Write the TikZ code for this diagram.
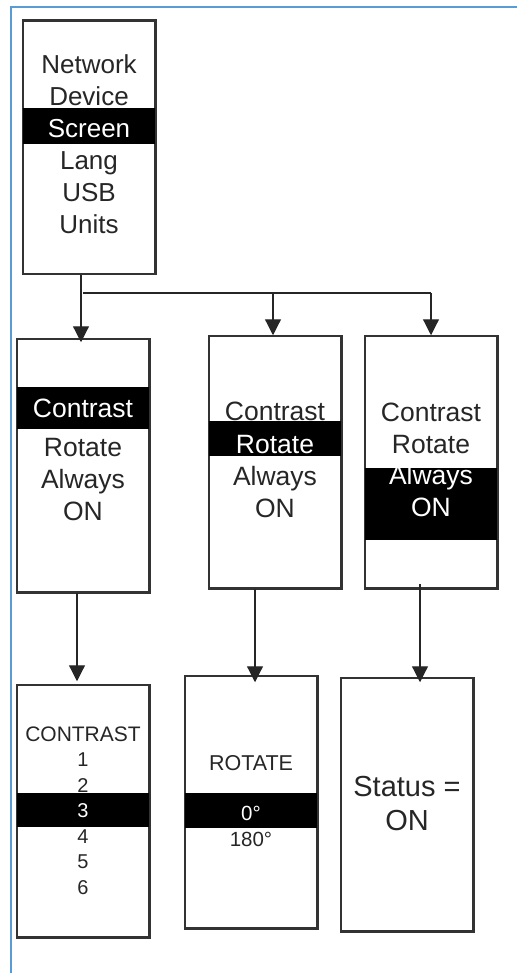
\documentclass[tikz,border=0pt]{standalone}
\usepackage{fontspec}
\setmainfont{Liberation Sans}
\usetikzlibrary{arrows.meta}
\definecolor{frameblue}{HTML}{5B9BD5}
\begin{document}
\begin{tikzpicture}[x=1pt,y=-1pt,
  box/.style={draw=black!80, line width=1.5pt, rectangle, inner sep=0pt},
  band/.style={fill=black},
  conn/.style={draw=black!85, line width=1.2pt, -{Triangle[width=16pt,length=16pt]}},
  plain/.style={draw=black!85, line width=1.2pt},
  lbl/.style={anchor=base, inner sep=0pt, text=black!85, font=\fontsize{#1pt}{#1pt}\selectfont},
  inv/.style={text=white}
]
\useasboundingbox (0,0) rectangle (517,973);
% frame
\draw[frameblue, line width=2pt] (11,973) -- (11,7) -- (517,7);

% boxes (geometry)
\node[box, minimum width=132pt, minimum height=253pt] (top) at (89,147.5) {};
\node[box, minimum width=132pt, minimum height=253pt] (A) at (83,465.5) {};
\node[box, minimum width=132pt, minimum height=252pt] (B) at (275,462) {};
\node[box, minimum width=132pt, minimum height=252pt] (C) at (431,462) {};
\node[box, minimum width=132pt, minimum height=252pt] (D) at (83,811) {};
\node[box, minimum width=132pt, minimum height=252pt] (E) at (251,802) {};
\node[box, minimum width=132pt, minimum height=253pt] (F) at (407,804.5) {};

% highlight bands
\fill[band] (top.west |- 0,108) rectangle (top.east |- 0,144);
\fill[band] (A.west |- 0,387) rectangle (A.east |- 0,429);
\fill[band] (B.west |- 0,421) rectangle (B.east |- 0,456);
\fill[band] (C.west |- 0,468) rectangle (C.east |- 0,540);
\fill[band] (D.west |- 0,793) rectangle (D.east |- 0,827);
\fill[band] (E.west |- 0,793) rectangle (E.east |- 0,828);

% redraw borders over bands
\foreach \b in {top,A,B,C,D,E,F}{
  \draw[draw=black!80, line width=1.5pt] (\b.north west) rectangle (\b.south east);
}

% top box text
\node[lbl=26] (t1) at (89,74) {Network};
\node[lbl=26] (t2) at (89,106) {Device};
\node[lbl=26,inv] (t3) at (89,138) {Screen};
\node[lbl=26] (t4) at (89,170) {Lang};
\node[lbl=26] (t5) at (89,202) {USB};
\node[lbl=26] (t6) at (89,234) {Units};

% box A
\node[lbl=26.5,inv] (a1) at (83,417) {Contrast};
\node[lbl=26.5] (a2) at (83,456) {Rotate};
\node[lbl=26.5] (a3) at (83,488) {Always};
\node[lbl=26.5] (a4) at (83,520) {ON};

% box B
\node[lbl=26.5] (b1) at (275,420) {Contrast};
\node[lbl=26.5,inv] (b2) at (275,453) {Rotate};
\node[lbl=26.5] (b3) at (275,485) {Always};
\node[lbl=26.5] (b4) at (275,517) {ON};

% box C
\node[lbl=26.5] (c1) at (431,421) {Contrast};
\node[lbl=26.5] (c2) at (431,453) {Rotate};
\node[lbl=26.5,inv] (c3) at (431,484) {Always};
\node[lbl=26.5,inv] (c4) at (431,516) {ON};

% box D
\node[lbl=21] (d0) at (83,741) {CONTRAST};
\node[lbl=20] (d1) at (83,766.5) {1};
\node[lbl=20] (d2) at (83,792) {2};
\node[lbl=20,inv] (d3) at (83,817.5) {3};
\node[lbl=20] (d4) at (83,843) {4};
\node[lbl=20] (d5) at (83,868.5) {5};
\node[lbl=20] (d6) at (83,894) {6};

% box E
\node[lbl=21.5] (e0) at (251,770.5) {ROTATE};
\node[lbl=20.5,inv] (e1) at (251,820.5) {0°};
\node[lbl=20.5] (e2) at (251,846.5) {180°};

% box F
\node[lbl=29] (f1) at (407,796.5) {Status =};
\node[lbl=29] (f2) at (407,830) {ON};

% connectors
\coordinate (j1) at (83,293);
\coordinate (j2) at (273,293);
\coordinate (j3) at (431,293);
\draw[conn] (top.south -| 81,0) -- ([yshift=-4pt]A.north -| 81,0);
\draw[plain] (j1) -- (j3);
\draw[conn] (j2) -- (B.north -| j2);
\draw[conn] (j3) -- (C.north);
\draw[conn] (A.south -| 77,0) -- ([yshift=3pt]D.north -| 77,0);
\draw[conn] (B.south -| 255,0) -- ([yshift=-7pt]E.north -| 255,0);
\draw[conn] ([yshift=5pt]C.south -| 420,0) -- ([yshift=-5pt]F.north -| 420,0);
\end{tikzpicture}
\end{document}
